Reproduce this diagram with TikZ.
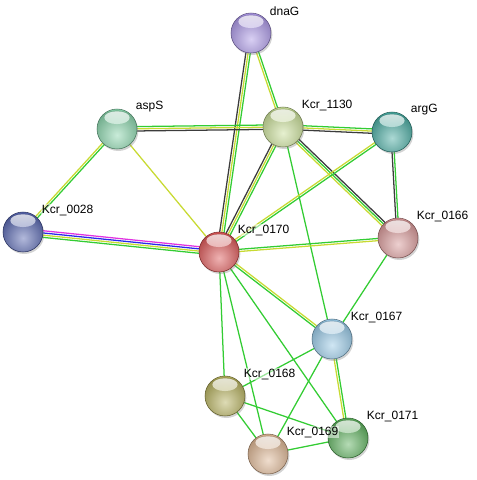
\documentclass[tikz,border=0pt]{standalone}
\usepackage{fontspec}
\setmainfont{Liberation Sans}
\usetikzlibrary{calc,backgrounds,shadows}

\definecolor{lkgreen}{RGB}{51,204,51}
\definecolor{lkyellow}{RGB}{200,218,50}
\definecolor{lkgray}{RGB}{60,60,60}
\definecolor{lkpink}{RGB}{225,50,225}
\definecolor{lkblue}{RGB}{40,40,235}

\definecolor{cdnaG}{RGB}{170,150,230}
\definecolor{cK1130}{RGB}{200,222,150}
\definecolor{caspS}{RGB}{135,212,170}
\definecolor{cargG}{RGB}{70,170,160}
\definecolor{cK0028}{RGB}{85,100,175}
\definecolor{cK0170}{RGB}{220,85,85}
\definecolor{cK0166}{RGB}{215,150,150}
\definecolor{cK0167}{RGB}{150,200,230}
\definecolor{cK0168}{RGB}{180,175,90}
\definecolor{cK0169}{RGB}{220,180,145}
\definecolor{cK0171}{RGB}{90,175,90}

\tikzset{
  prot/.style={circle, minimum size=30pt, inner sep=0pt, draw=#1!55!black,
    line width=0.4pt, fill=#1,
    drop shadow={opacity=0.35, shadow xshift=1pt, shadow yshift=-1.5pt},
    path picture={
      \shade[inner color=#1!45!white, outer color=#1!80!black]
        ($(path picture bounding box.center)+(0,-5pt)$) circle (19pt);
      \shade[top color=white, bottom color=#1!30!white, fill opacity=0.75]
        ($(path picture bounding box.center)+(0,8.5pt)$) ellipse (9.5pt and 4.8pt);
    }},
  lbl/.style={anchor=west, inner sep=0.5pt, fill=white, fill opacity=0.5,
    text opacity=1, font=\fontsize{9}{10}\selectfont},
}

% parallel evidence lines: from, to, colour/offset list
\newcommand{\lnk}[3]{%
  \foreach \c/\o in {#3}
    \draw[\c, line width=0.95pt] ($(#1)!\o*1.65pt!90:(#2)$) -- ($(#2)!\o*1.65pt!-90:(#1)$);
}

\begin{document}
\begin{tikzpicture}[x=0.75pt,y=-0.75pt]
\useasboundingbox (0,0) rectangle (477,480);

% proteins
\node[prot=cdnaG]  (dnaG)  at (251,33)  {};
\node[prot=cK1130] (k1130) at (283,127) {};
\node[prot=caspS]  (aspS)  at (117,129) {};
\node[prot=cargG]  (argG)  at (392,132) {};
\node[prot=cK0028] (k0028) at (23,232)  {};
\node[prot=cK0170] (k0170) at (219,252) {};
\node[prot=cK0166] (k0166) at (398,238) {};
\node[prot=cK0167] (k0167) at (332,339) {};
\node[prot=cK0168] (k0168) at (225,396) {};
\node[prot=cK0169] (k0169) at (268,454) {};
\node[prot=cK0171] (k0171) at (348,438) {};

% labels
\node[lbl] (dnaGt)  at ($(dnaG)+(18,-22)$)  {dnaG};
\node[lbl] (k1130t) at ($(k1130)+(18,-22)$) {Kcr\_1130};
\node[lbl] (aspSt)  at ($(aspS)+(18,-22)$)  {aspS};
\node[lbl] (argGt)  at ($(argG)+(18,-22)$)  {argG};
\node[lbl] (k0028t) at ($(k0028)+(18,-22)$) {Kcr\_0028};
\node[lbl] (k0170t) at ($(k0170)+(18,-22)$) {Kcr\_0170};
\node[lbl] (k0166t) at ($(k0166)+(18,-22)$) {Kcr\_0166};
\node[lbl] (k0167t) at ($(k0167)+(18,-22)$) {Kcr\_0167};
\node[lbl] (k0168t) at ($(k0168)+(18,-22)$) {Kcr\_0168};
\node[lbl] (k0169t) at ($(k0169)+(18,-22)$) {Kcr\_0169};
\node[lbl] (k0171t) at ($(k0171)+(18,-22)$) {Kcr\_0171};

% links
\begin{scope}[on background layer]
\lnk{dnaG}{k0170}{lkgray/-1,lkyellow/0,lkgreen/1}
\lnk{dnaG}{k1130}{lkyellow/-0.5,lkgreen/0.5}
\lnk{aspS}{k1130}{lkgreen/1,lkyellow/0,lkgray/-1}
\lnk{aspS}{k0170}{lkyellow/0}
\lnk{aspS}{k0028}{lkyellow/-0.5,lkgreen/0.5}
\lnk{k1130}{argG}{lkgreen/1,lkyellow/0,lkgray/-1}
\lnk{k1130}{k0170}{lkgray/-1,lkyellow/0,lkgreen/1}
\lnk{k1130}{k0166}{lkgray/1,lkgreen/0,lkyellow/-1}
\lnk{k1130}{k0167}{lkgreen/0}
\lnk{argG}{k0170}{lkgreen/0.5,lkyellow/-0.5}
\lnk{argG}{k0166}{lkgreen/0.5,lkgray/-0.5}
\lnk{k0028}{k0170}{lkpink/1.5,lkblue/0.5,lkyellow/-0.5,lkgreen/-1.5}
\lnk{k0170}{k0166}{lkgreen/0.5,lkyellow/-0.5}
\lnk{k0170}{k0167}{lkgreen/-0.5,lkyellow/0.5}
\lnk{k0170}{k0168}{lkgreen/0}
\lnk{k0170}{k0169}{lkgreen/0}
\lnk{k0170}{k0171}{lkgreen/0}
\lnk{k0166}{k0167}{lkgreen/0}
\lnk{k0167}{k0168}{lkgreen/0}
\lnk{k0167}{k0169}{lkgreen/0}
\lnk{k0167}{k0171}{lkgreen/0.5,lkyellow/-0.5}
\lnk{k0168}{k0169}{lkgreen/0}
\lnk{k0168}{k0171}{lkgreen/0}
\lnk{k0169}{k0171}{lkgreen/0}
\end{scope}
\end{tikzpicture}
\end{document}
